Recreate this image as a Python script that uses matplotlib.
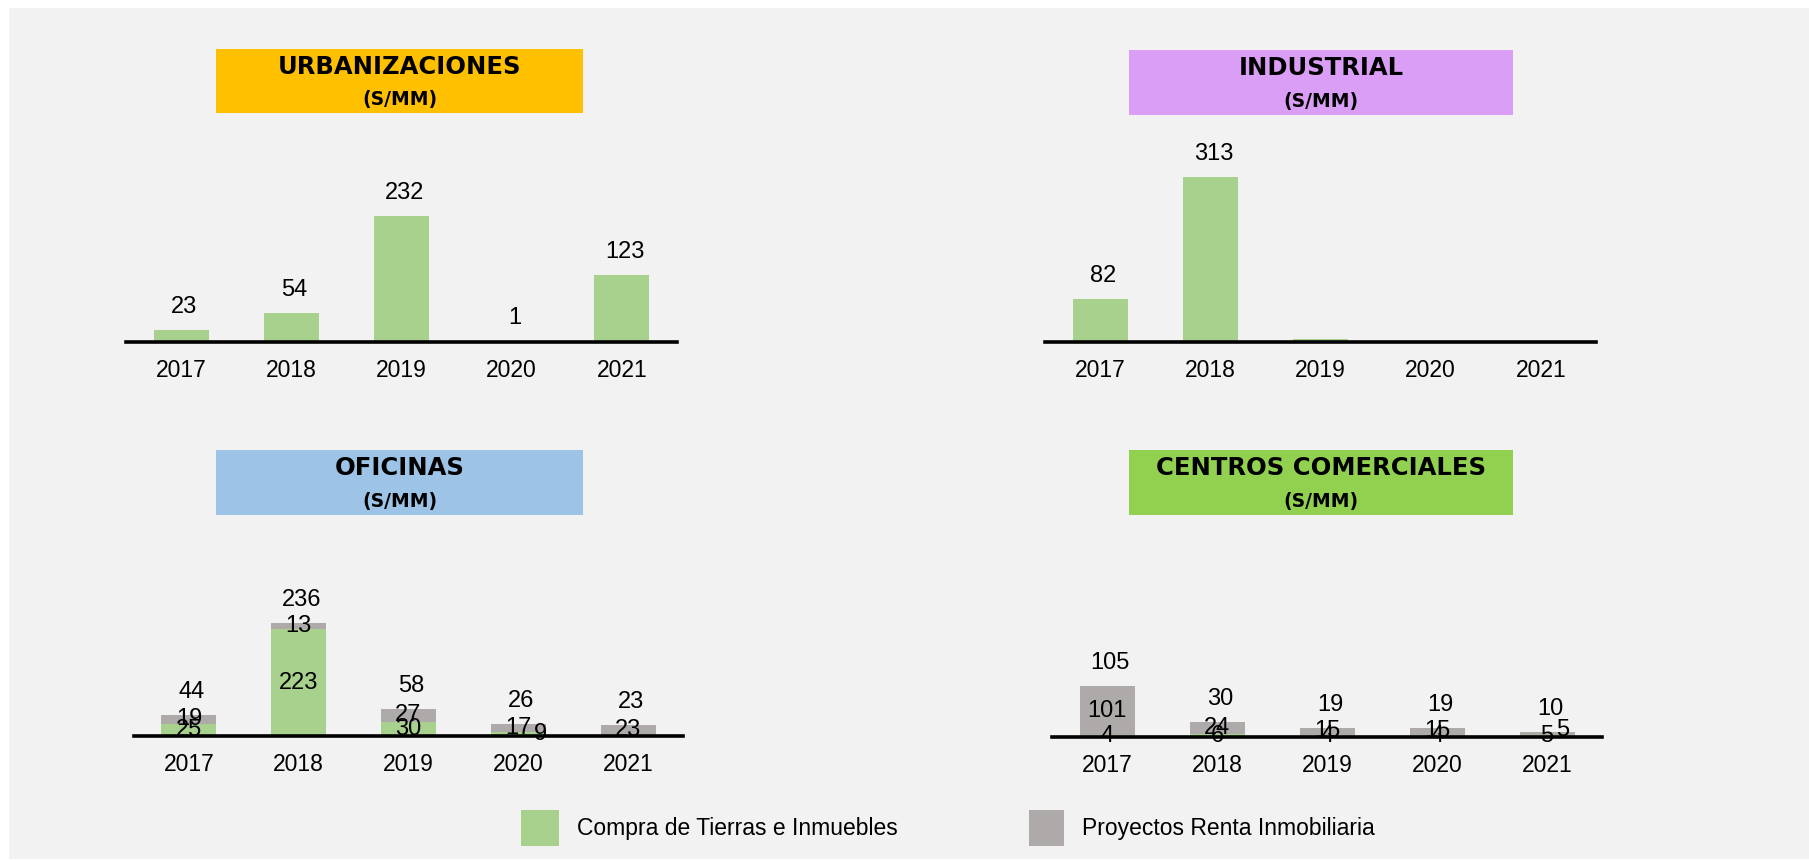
import numpy as np
import matplotlib
matplotlib.use("Agg")
import matplotlib.pyplot as plt
from matplotlib.patches import Rectangle

# data
years = ["2017", "2018", "2019", "2020", "2021"]

urb_compra = [23, 54, 232, 1, 123]
urb_labels = ["23", "54", "232", "1", "123"]

ind_compra = [82, 313, 6, 0, 0]
ind_labels = ["82", "313", "", "", ""]

ofi_compra = [25, 223, 30, 9, 0]
ofi_renta = [19, 13, 27, 17, 23]
ofi_total = [44, 236, 58, 26, 23]

cc_compra = [4, 6, 4, 4, 5]
cc_renta = [101, 24, 15, 15, 5]
cc_total = [105, 30, 19, 19, 10]

serie_compra = "Compra de Tierras e Inmuebles"
serie_renta = "Proyectos Renta Inmobiliaria"

GREEN = "#A9D18E"
GRAY = "#AEAAAA"
BG = "#F2F2F2"

body_font = "Liberation Sans"
title_font = "DejaVu Sans"

W, H = 1809, 861
fig = plt.figure(figsize=(W / 100, H / 100), dpi=100)
fig.patch.set_facecolor("white")

def fx(px):
    return px / W

def fy(py):
    return 1 - py / H

# gray panel behind everything
fig.patches.append(Rectangle((fx(9), fy(859)), fx(1800), 851 / H,
                             transform=fig.transFigure, facecolor=BG, edgecolor="none", zorder=-5))

def make_axes(left, right, base, scale, top_px=230):
    ax = fig.add_axes([fx(left), fy(base), fx(right - left), top_px / H])
    ax.set_xlim(-0.5, 4.5)
    ax.set_ylim(0, top_px / scale)
    ax.patch.set_alpha(0)
    for s in ["top", "left", "right"]:
        ax.spines[s].set_visible(False)
    ax.spines["bottom"].set_linewidth(2.6)
    ax.spines["bottom"].set_color("black")
    ax.spines["bottom"].set_zorder(3)
    ax.set_yticks([])
    ax.set_xticks(range(len(years)))
    ax.set_xticklabels(years, fontsize=16.5, family=body_font)
    ax.tick_params(axis="x", length=0, pad=12)
    return ax

def title_box(x0, x1, y0, y1, color, text):
    fig.patches.append(Rectangle((fx(x0), fy(y1)), fx(x1 - x0), (y1 - y0) / H,
                                 transform=fig.transFigure, facecolor=color,
                                 edgecolor="none", zorder=1))
    xc = fx((x0 + x1) / 2)
    fig.text(xc, fy(y0 + 18), text, ha="center", va="center", fontsize=17.5,
             fontweight="bold", family=title_font)
    fig.text(xc, fy(y0 + 51), "(S/MM)", ha="center", va="center", fontsize=13.5,
             fontweight="bold", family=title_font)

def top_label(ax, x, y, s):
    ax.annotate(s, (x, y), xytext=(3, 23), textcoords="offset pixels",
                ha="center", va="center", fontsize=17, family=body_font)

def seg_label(ax, x, y, s, dx=0, dy=0):
    ax.annotate(s, (x, y), xytext=(dx, dy), textcoords="offset pixels",
                ha="center", va="center", fontsize=17, family=body_font, zorder=4)

x = np.arange(len(years))

# URBANIZACIONES
ax1 = make_axes(126, 677, 342, 0.543)
ax1.bar(x, urb_compra, width=0.5, color=GREEN)
for i, v in enumerate(urb_compra):
    if urb_labels[i]:
        top_label(ax1, i, v, urb_labels[i])
title_box(216, 583, 49, 113, "#FFC000", "URBANIZACIONES")

# INDUSTRIAL
ax2 = make_axes(1045, 1596, 342, 0.527)
ax2.bar(x, ind_compra, width=0.5, color=GREEN)
for i, v in enumerate(ind_compra):
    if ind_labels[i]:
        top_label(ax2, i, v, ind_labels[i])
title_box(1129, 1513, 50, 115, "#DA9EF6", "INDUSTRIAL")

def stacked(ax, compra, renta, total):
    compra = np.array(compra)
    renta = np.array(renta)
    ax.bar(x, compra, width=0.5, color=GREEN)
    ax.bar(x, renta, width=0.5, bottom=compra, color=GRAY)
    for i in range(len(years)):
        if compra[i] > 0:
            # very thin green segments got their label pushed aside in the original
            dx = 22 if 0 < compra[i] < 10 and renta[i] > 15 and compra[i] > 8 else 0
            seg_label(ax, i, compra[i] / 2, str(compra[i]), dx=dx)
        if renta[i] > 0:
            dx = 16 if renta[i] == compra[i] else 0
            seg_label(ax, i, compra[i] + renta[i] / 2, str(renta[i]), dx=dx, dy=3 if dx else 0)
        top_label(ax, i, compra[i] + renta[i], str(total[i]))

# OFICINAS
ax3 = make_axes(134, 683, 736, 0.479)
stacked(ax3, ofi_compra, ofi_renta, ofi_total)
title_box(216, 583, 450, 515, "#9DC3E6", "OFICINAS")

# CENTROS COMERCIALES
ax4 = make_axes(1052, 1602, 737, 0.486)
stacked(ax4, cc_compra, cc_renta, cc_total)
title_box(1129, 1513, 450, 515, "#92D050", "CENTROS COMERCIALES")

# legend
for x0, x1, col, lab in [(521, 559, GREEN, serie_compra), (1029, 1064, GRAY, serie_renta)]:
    fig.patches.append(Rectangle((fx(x0), fy(846)), fx(x1 - x0), 36 / H,
                                 transform=fig.transFigure, facecolor=col,
                                 edgecolor="none", zorder=1))
    fig.text(fx(x1 + 18), fy(828), lab, ha="left", va="center", fontsize=16.5, family=body_font)

fig.savefig("out.png", dpi=100, facecolor=fig.get_facecolor())
